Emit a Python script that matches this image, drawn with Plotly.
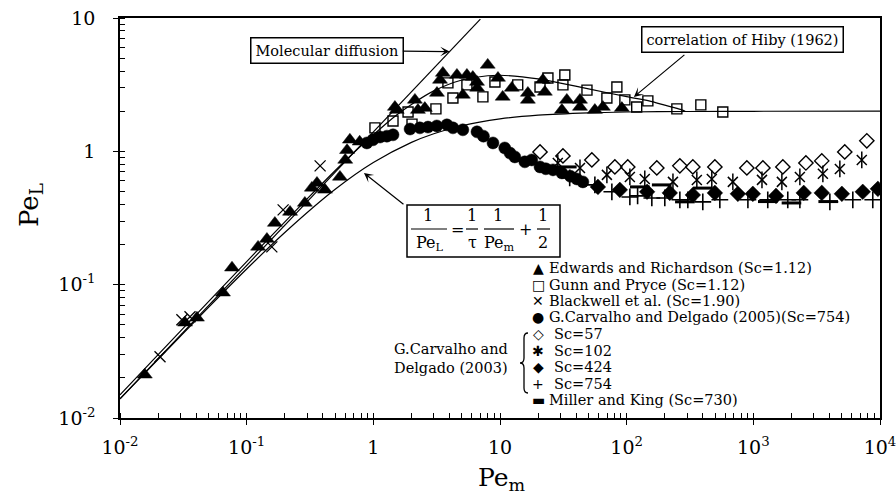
import plotly.graph_objects as go
import math

# ---------------- data ----------------
edwards_x = [0.0157, 0.0326, 0.0405, 0.065, 0.0766, 0.123, 0.1445, 0.167, 0.22, 0.288, 0.327, 0.359,
             0.415, 0.545, 0.60, 0.62, 0.653, 0.78, 1.48, 1.53, 2.13, 2.25, 2.55, 3.18, 3.36, 3.54, 4.57,
             5.48, 5.09, 6.58, 8.0, 6.1, 6.6, 9.64, 10.5, 12.4, 16.6, 16.6, 21.8, 22.6, 33.7, 30.8,
             42.8, 42.8, 56.1, 64.9, 91.6]
edwards_y = [0.0211, 0.0518, 0.0564, 0.087, 0.134, 0.192, 0.220, 0.290, 0.351, 0.410, 0.532, 0.579,
             0.514, 0.643, 0.862, 1.02, 1.22, 1.18, 2.15, 2.04, 2.43, 2.04, 2.11, 2.74, 3.43, 3.87, 3.74,
             3.74, 2.65, 3.31, 4.45, 3.61, 2.99, 3.55, 2.56, 2.99, 2.74, 2.43, 3.43, 2.79, 2.43, 2.04,
             2.43, 2.15, 2.04, 2.15, 2.11]

gunn_x = [1.03, 1.43, 1.88, 2.02, 3.12, 4.25, 3.88, 5.48, 7.33, 9.12, 13.8, 20.7, 23.9, 32.5, 31.4,
          48.6, 69.8, 83.7, 96.8, 120, 147, 249, 385, 574]
gunn_y = [1.50, 1.69, 1.97, 1.60, 2.08, 2.51, 3.26, 3.15, 2.56, 3.31, 3.15, 3.04, 3.55, 3.74, 3.15,
          2.88, 2.51, 3.04, 2.43, 2.15, 2.39, 2.08, 2.23, 1.97]

blackwell_x = [0.0207, 0.0308, 0.0357, 0.158, 0.194, 0.38]
blackwell_y = [0.0288, 0.0545, 0.0574, 0.192, 0.364, 0.778]

carv2005_x = [0.889, 0.994, 1.13, 1.28, 1.43, 1.95, 2.33, 2.7, 3.17, 3.81, 4.25, 5.09, 6.58, 7.4,
              8.8, 10.9, 12.0, 13.1, 15.7, 17.8, 20.7, 23.0, 26.2, 30.8, 36.0, 40.4, 45.1]
carv2005_y = [1.156, 1.22, 1.28, 1.30, 1.33, 1.47, 1.50, 1.52, 1.55, 1.58, 1.50, 1.45, 1.40, 1.30,
              1.156, 1.06, 0.97, 0.908, 0.834, 0.862, 0.764, 0.74, 0.726, 0.689, 0.65, 0.621, 0.59]

sc57_x = [20.7, 31.4, 53.1, 80.7, 102, 173, 263, 333, 497, 889, 1190, 1710, 2600, 3470, 5270, 7870]
sc57_y = [0.99, 0.924, 0.862, 0.764, 0.764, 0.751, 0.778, 0.764, 0.764, 0.751, 0.751, 0.764, 0.818,
          0.848, 0.99, 1.20]

sc102_x = [28.6, 42.8, 69.8, 106, 139, 232, 358, 470, 689, 1170, 1680, 2330, 3540, 4820, 7180]
sc102_y = [0.818, 0.751, 0.666, 0.643, 0.621, 0.59, 0.61, 0.621, 0.59, 0.611, 0.59, 0.643, 0.678,
           0.738, 0.862]

sc424_x = [59.3, 88.3, 145, 219, 333, 497, 755, 991, 1510, 2500, 3470, 5000, 7310, 9620]
sc424_y = [0.541, 0.514, 0.497, 0.488, 0.471, 0.488, 0.48, 0.48, 0.463, 0.488, 0.488, 0.48, 0.497, 0.523]

sc754_x = [35.5, 56.1, 76.4, 106, 122, 158, 200, 263, 304, 399, 544, 906, 1300, 1870, 2330, 4020,
           6100, 8770]
sc754_y = [0.632, 0.56, 0.497, 0.455, 0.463, 0.447, 0.447, 0.433, 0.433, 0.418, 0.433, 0.433, 0.433,
           0.433, 0.433, 0.418, 0.433, 0.433]

miller_x = [33.7, 127, 189, 399, 288, 1300, 2000, 3900]
miller_y = [0.764, 0.541, 0.56, 0.53, 0.418, 0.42, 0.41, 0.42]

# curves
moldiff_x = [0.01, 7.0]
moldiff_y = [0.0139, 9.8]

hiby_x = [0.01, 0.03, 0.1, 0.3, 0.6, 1, 1.5, 2, 3, 5, 8, 10, 15, 20, 30, 50, 100, 150, 200, 250, 290]
hiby_y = [0.0149, 0.0448, 0.149, 0.44, 0.85, 1.33, 1.85, 2.25, 2.84, 3.43, 3.69, 3.72, 3.62, 3.49,
          3.25, 2.94, 2.57, 2.39, 2.22, 2.1, 2.0]

model_x = [0.01, 0.02, 0.05, 0.1, 0.2, 0.5, 1, 2, 3, 5, 10, 20, 50, 100, 300, 1000, 10000]
model_y = [0.0139, 0.0276, 0.0676, 0.131, 0.246, 0.519, 0.824, 1.167, 1.355, 1.556, 1.75, 1.867,
           1.944, 1.972, 1.99, 1.997, 2.0]

x_tickvals = [0.01, 0.1, 1, 10, 100, 1000, 10000]
x_ticktext = ["10<sup>-2</sup>", "10<sup>-1</sup>", "1", "10", "10<sup>2</sup>", "10<sup>3</sup>",
              "10<sup>4</sup>"]
y_tickvals = [0.01, 0.1, 1, 10]
y_ticktext = ["10<sup>-2</sup>", "10<sup>-1</sup>", "1", "10"]

legend_labels = ["Edwards and Richardson (Sc=1.12)", "Gunn and Pryce (Sc=1.12)",
                 "Blackwell et al. (Sc=1.90)", "G.Carvalho and Delgado (2005)(Sc=754)",
                 "Sc=57", "Sc=102", "Sc=424", "Sc=754", "Miller and King (Sc=730)"]
legend_symbols = ["▲", "□", "✕", "●", "◇", "✱", "◆", "+", "▬"]

# ---------------- figure ----------------
FONT = "DejaVu Serif"
W, H = 896, 500
L, R, T, B = 120, 16, 18, 82


def pp(px, py):
    """pixel -> paper coordinates"""
    return (px - L) / (W - L - R), (H - B - py) / (H - T - B)


fig = go.Figure()

fig.add_trace(go.Scatter(x=moldiff_x, y=moldiff_y, mode="lines",
                         line=dict(color="black", width=1.2), showlegend=False))
fig.add_trace(go.Scatter(x=hiby_x, y=hiby_y, mode="lines",
                         line=dict(color="black", width=1.2, shape="spline", smoothing=0.8),
                         showlegend=False))
fig.add_trace(go.Scatter(x=model_x, y=model_y, mode="lines",
                         line=dict(color="black", width=1.2, shape="spline", smoothing=0.8),
                         showlegend=False))


def pts(x, y, symbol, size, lw=1.3, color="black"):
    fig.add_trace(go.Scatter(x=x, y=y, mode="markers", showlegend=False,
                             marker=dict(symbol=symbol, size=size, color=color,
                                         line=dict(color="black", width=lw))))


pts(edwards_x, edwards_y, "triangle-up", 13, 0.5)
pts(gunn_x, gunn_y, "square-open", 10, 1.4)
pts(blackwell_x, blackwell_y, "x-thin-open", 11, 1.3)
pts(carv2005_x, carv2005_y, "circle", 12, 0.5)
pts(sc57_x, sc57_y, "diamond-open", 11, 1.4)
pts(sc102_x, sc102_y, "x-thin-open", 10, 1.5)
pts(sc102_x, sc102_y, "line-ns-open", 12, 1.5)
pts(sc424_x, sc424_y, "diamond", 12, 0.5)
pts(sc754_x, sc754_y, "cross-thin-open", 12, 1.6)
pts(miller_x, miller_y, "line-ew-open", 14, 3)

axis_common = dict(type="log", showline=True, linecolor="black", linewidth=1.5, mirror=True,
                   showgrid=False, zeroline=False, ticks="outside", ticklen=5, tickwidth=1.2,
                   tickcolor="black", tickmode="array", ticklabeloverflow="allow",
                   automargin=False,
                   tickfont=dict(family=FONT, size=19, color="black"),
                   minor=dict(ticks="inside", ticklen=5, tickwidth=1, tickcolor="black",
                              dtick="D1", showgrid=False))

fig.update_layout(
    width=W, height=H, margin=dict(l=L, r=R, t=T, b=B, autoexpand=False),
    paper_bgcolor="white", plot_bgcolor="white", showlegend=False,
    font=dict(family=FONT, color="black"),
    xaxis=dict(axis_common, range=[-2, 4], tickvals=x_tickvals, ticktext=x_ticktext,
               ticklabelstandoff=6),
    yaxis=dict(axis_common, range=[-2, 1], tickvals=y_tickvals, ticktext=y_ticktext,
               ticklabelstandoff=14),
)

ann = []
# axis titles
x0, y0 = pp(502, 479)
ann.append(dict(xref="paper", yref="paper", x=x0, y=y0, text="Pe<sub>m</sub>", showarrow=False,
                font=dict(family=FONT, size=25), xanchor="center", yanchor="middle"))
x0, y0 = pp(30, 205)
ann.append(dict(xref="paper", yref="paper", x=x0, y=y0, text="Pe<sub>L</sub>", showarrow=False,
                textangle=-90, font=dict(family=FONT, size=26), xanchor="center", yanchor="middle"))

# Molecular diffusion label with arrow
ann.append(dict(xref="x", yref="y", x=math.log10(4.0), y=math.log10(5.6), ax=-123, ay=-1,
                text="Molecular diffusion", showarrow=True, arrowhead=3, arrowsize=1.3,
                arrowwidth=1.2, arrowcolor="black", bgcolor="white", bordercolor="black",
                borderwidth=1.5, borderpad=4, font=dict(family=FONT, size=14.5)))

# Hiby label + arrow
x0, y0 = pp(742, 39)
ann.append(dict(xref="paper", yref="paper", x=x0, y=y0, text="correlation of Hiby (1962)",
                showarrow=False, bgcolor="white", bordercolor="black", borderwidth=1.5, borderpad=4,
                font=dict(family=FONT, size=14.5), xanchor="center", yanchor="middle"))
ann.append(dict(xref="x", yref="y", x=2.057, y=0.408, ax=54, ay=-45, text=" ", showarrow=True,
                arrowhead=3, arrowsize=1.3, arrowwidth=1.2, arrowcolor="black"))

# formula arrow
ann.append(dict(xref="x", yref="y", x=-0.074, y=-0.162, ax=43, ay=34, text=" ", showarrow=True,
                arrowhead=3, arrowsize=1.3, arrowwidth=1.2, arrowcolor="black"))

# formula pieces
ffont = dict(family=FONT, size=16)
for (px, py, t) in [(428, 215, "1"), (430, 243, "Pe<sub>L</sub>"), (457, 229, "="),
                    (472, 215, "1"), (472, 242, "τ"), (498, 215, "1"), (499, 243, "Pe<sub>m</sub>"),
                    (525, 229, "+"), (543, 215, "1"), (543, 242, "2")]:
    x0, y0 = pp(px, py)
    ann.append(dict(xref="paper", yref="paper", x=x0, y=y0, text=t, showarrow=False, font=ffont,
                    xanchor="center", yanchor="middle"))

shapes = []
bx0, by0 = pp(407, 205)
bx1, by1 = pp(560, 257)
shapes.append(dict(type="rect", xref="paper", yref="paper", x0=bx0, y0=by1, x1=bx1, y1=by0,
                   line=dict(color="black", width=1.5), fillcolor="white", layer="above"))
for (a, b) in [(411, 447), (466, 478), (484, 514), (537, 550)]:
    xa, ya = pp(a, 229)
    xb, _ = pp(b, 229)
    shapes.append(dict(type="line", xref="paper", yref="paper", x0=xa, x1=xb, y0=ya, y1=ya,
                       line=dict(color="black", width=1.2)))

# legend (text)
rows = [268, 285, 301, 317, 334, 351, 367, 384, 400]
for i, (sym, lab) in enumerate(zip(legend_symbols, legend_labels)):
    sx, sy = pp(538, rows[i])
    ann.append(dict(xref="paper", yref="paper", x=sx, y=sy, text=sym, showarrow=False,
                    font=dict(family="DejaVu Sans", size=14), xanchor="center", yanchor="middle",
                    borderpad=0))
    tx, ty = pp(553 if 4 <= i <= 7 else 548, rows[i])
    ann.append(dict(xref="paper", yref="paper", x=tx, y=ty, text=lab, showarrow=False,
                    font=dict(family=FONT, size=14.5), xanchor="left", yanchor="middle",
                    borderpad=0))

for (py, t) in [(349, "G.Carvalho and"), (368, "Delgado (2003)")]:
    tx, ty = pp(393, py)
    ann.append(dict(xref="paper", yref="paper", x=tx, y=ty, text=t, showarrow=False,
                    font=dict(family=FONT, size=14.5), xanchor="left", yanchor="middle",
                    borderpad=0))

# brace
bp = [(528, 333), (524, 333), (524, 338), (524, 358), (524, 363), (520, 363), (524, 363), (524, 368),
      (524, 388), (524, 393), (528, 393)]
q = [pp(*p) for p in bp]
path = (f"M {q[0][0]},{q[0][1]} Q {q[1][0]},{q[1][1]} {q[2][0]},{q[2][1]} "
        f"L {q[3][0]},{q[3][1]} Q {q[4][0]},{q[4][1]} {q[5][0]},{q[5][1]} "
        f"Q {q[6][0]},{q[6][1]} {q[7][0]},{q[7][1]} L {q[8][0]},{q[8][1]} "
        f"Q {q[9][0]},{q[9][1]} {q[10][0]},{q[10][1]}")
shapes.append(dict(type="path", xref="paper", yref="paper", path=path,
                   line=dict(color="black", width=1.3)))

fig.update_layout(annotations=ann, shapes=shapes)
fig.write_html("out.html")
